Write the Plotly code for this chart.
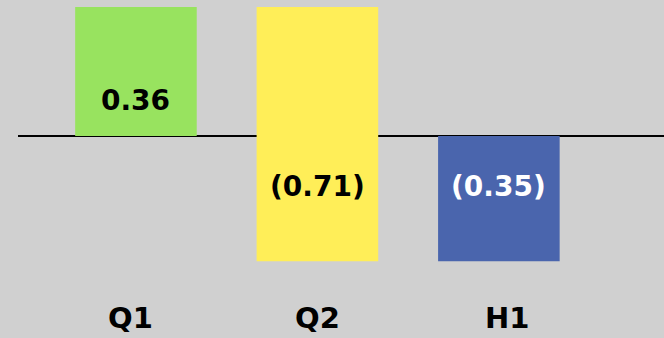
import plotly.graph_objects as go

categories = ["Q1", "Q2", "H1"]
measures = ["relative", "relative", "total"]
values = [0.36, -0.71, -0.35]

def fmt(v):
    return f"({abs(v):.2f})" if v < 0 else f"{v:.2f}"

labels = [fmt(v) for v in values]
label_colors = ["black", "black", "white"]
label_shift = [35, -51, -51]
cat_xshift = [-5, 0, 8]

fig = go.Figure(go.Waterfall(
    x=categories,
    y=[values[0], values[1], 0],
    measure=measures,
    width=0.67,
    increasing=dict(marker=dict(color="#98E35F")),
    decreasing=dict(marker=dict(color="#FFEE58")),
    totals=dict(marker=dict(color="#4A65AD")),
    connector=dict(visible=False),
    textposition="none",
    showlegend=False,
))

for c, t, col, s in zip(categories, labels, label_colors, label_shift):
    fig.add_annotation(x=c, y=0, text=t, showarrow=False, yshift=s,
                       font=dict(family="DejaVu Sans", size=28, color=col, weight="bold"))

for c, xs in zip(categories, cat_xshift):
    fig.add_annotation(x=c, y=0, yref="paper", text=c, showarrow=False,
                       yanchor="middle", yshift=-28, xshift=xs,
                       font=dict(family="DejaVu Sans", size=29, color="black", weight="bold"))

fig.update_layout(
    width=664, height=338,
    margin=dict(l=18, r=0, t=0, b=48),
    paper_bgcolor="#D0D0D0", plot_bgcolor="#D0D0D0",
    font=dict(family="DejaVu Sans", size=28, color="black", weight="bold"),
    xaxis=dict(range=[-0.65, 2.91], showgrid=False, ticks="", showticklabels=False),
    yaxis=dict(range=[-0.430, 0.3796], showgrid=False, showticklabels=False,
               zeroline=True, zerolinecolor="black", zerolinewidth=2),
)

fig.write_html("out.html")
